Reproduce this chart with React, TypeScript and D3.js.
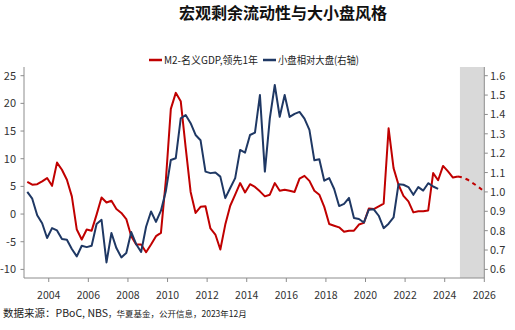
import React from "react";
import * as d3 from "d3";

// Quarterly observations, first quarter = Dec 2002
const FIRST_PERIOD = 2002 + 11 / 12;
const STEP = 0.25;

const m2GdpLead = [
  5.8, 5.3, 5.4, 5.9, 6.5, 5.1, 9.3, 8.0, 6.2, 3.2,
  -2.8, -4.6, -2.8, -3.0, -0.1, 3.0, 2.1, 2.4, 0.9, 0.2,
  -0.9, -4.0, -5.5, -5.5, -6.9, -5.5, -4.0, -3.4, 6.2, 19.0,
  21.9, 20.4, 12.0, 4.0, 0.2, 1.3, 1.4, -2.6, -3.7, -6.4,
  -1.9, 1.5, 3.5, 5.6, 3.9, 5.4, 4.9, 4.1, 3.2, 3.5,
  5.6, 4.2, 4.4, 4.2, 4.0, 6.4, 6.9, 6.0, 4.2, 3.5,
  1.3, -1.8, -2.1, -2.4, -3.2, -3.0, -3.0, -1.9, -1.6, 1.0,
  0.9, 1.4, 1.9, 15.5, 8.3, 5.3, 3.3, 2.3, 0.3, 0.5,
  0.5, 0.65, 7.4, 6.1, 8.7, 7.7, 6.6, 6.8,
];
// Projection (dashed), continues from the last observed quarter
const m2GdpForecast = [6.8, 6.6, 6.2, 5.6, 5.0, 4.3];

const smallVsLarge = [
  1.0, 0.965, 0.88, 0.838, 0.762, 0.813, 0.801, 0.757, 0.753, 0.705,
  0.667, 0.722, 0.715, 0.722, 0.834, 0.856, 0.636, 0.788, 0.71, 0.662,
  0.685, 0.793, 0.73, 0.69, 0.82, 0.899, 0.845, 0.903, 1.005, 1.165,
  1.174, 1.38, 1.397, 1.355, 1.294, 1.267, 1.105, 1.097, 1.1, 1.079,
  0.968, 1.02, 1.071, 1.217, 1.203, 1.294, 1.306, 1.5, 1.105, 1.38,
  1.552, 1.388, 1.5, 1.387, 1.403, 1.413, 1.378, 1.32, 1.163, 1.169,
  1.058, 1.071, 1.015, 0.927, 0.938, 0.969, 0.865, 0.86, 0.842, 0.908,
  0.91, 0.877, 0.813, 0.836, 0.868, 1.04, 1.037, 1.025, 0.985, 1.025,
  1.007, 1.045, 1.028, 1.016,
];

const xTicks = [2004, 2006, 2008, 2010, 2012, 2014, 2016, 2018, 2020, 2022, 2024, 2026];
const leftTicks = [-10, -5, 0, 5, 10, 15, 20, 25];
const rightTicks = [0.6, 0.7, 0.8, 0.9, 1.0, 1.1, 1.2, 1.3, 1.4, 1.5, 1.6];
const forecastShade = [2024.77, 2026];

const TITLE = "宏观剩余流动性与大小盘风格";
const LEGEND_RED = "M2-名义GDP,领先1年";
const LEGEND_BLUE = "小盘相对大盘(右轴)";
const SOURCE_A = "数据来源：PBoC, NBS";
const SOURCE_B = "，华夏基金，公开信息，2023年12月";

const RED = "#C00000";
const BLUE = "#1F3864";
const AXIS = "#8c8c8c";
const FONT = "'Noto Sans CJK SC', 'Noto Sans', sans-serif";

export default function App() {
  const W = 515, H = 330;
  const left = 24, right = 484.3, top = 67, bottom = 278;

  const x = d3.scaleLinear().domain([2002.75, 2026]).range([left, right]);
  const yL = d3.scaleLinear().domain([-10, 25]).range([269.4, 75.7]);
  const yR = d3.scaleLinear().domain([0.6, 1.6]).range([269.4, 75.7]);

  const t = (i: number) => FIRST_PERIOD + i * STEP;
  const redLine = d3.line<number>().x((_, i) => x(t(i))).y((d) => yL(d));
  const fcOffset = m2GdpLead.length - 1;
  const fcLine = d3.line<number>().x((_, i) => x(t(i + fcOffset))).y((d) => yL(d));
  const blueLine = d3.line<number>().x((_, i) => x(t(i))).y((d) => yR(d));

  return (
    <svg width={W} height={H} style={{ position: "absolute", left: 0, top: 0, background: "#fff" }} fontFamily={FONT}>
      <rect
        x={x(forecastShade[0])}
        y={top}
        width={x(forecastShade[1]) - x(forecastShade[0])}
        height={bottom - top}
        fill="#d9d9d9"
      />
      <text x={283} y={19} textAnchor="middle" fontSize={16} fontWeight="bold" fill="#111">{TITLE}</text>

      {/* legend */}
      <line x1={149} x2={162} y1={60} y2={60} stroke={RED} strokeWidth={2.5} />
      <text x={164} y={64} fontSize={10.5} fill="#222" textLength={94} lengthAdjust="spacingAndGlyphs">{LEGEND_RED}</text>
      <line x1={263} x2={276} y1={60} y2={60} stroke={BLUE} strokeWidth={2.5} />
      <text x={278} y={64} fontSize={10.5} fill="#222" textLength={81} lengthAdjust="spacingAndGlyphs">{LEGEND_BLUE}</text>

      {/* axes */}
      <line x1={left} x2={left} y1={top} y2={bottom} stroke={AXIS} />
      <line x1={right} x2={right} y1={top} y2={bottom} stroke={AXIS} />
      <line x1={left} x2={right} y1={bottom} y2={bottom} stroke={AXIS} />
      {leftTicks.map((v) => (
        <g key={"l" + v}>
          <line x1={left - 3.5} x2={left} y1={yL(v)} y2={yL(v)} stroke={AXIS} />
          <text x={16} y={yL(v) + 4} textAnchor="end" fontSize={11} fill="#333">{v}</text>
        </g>
      ))}
      {rightTicks.map((v) => (
        <g key={"r" + v}>
          <line x1={right} x2={right + 3.5} y1={yR(v)} y2={yR(v)} stroke={AXIS} />
          <text x={490} y={yR(v) + 4} fontSize={11} fill="#333">{v.toFixed(1)}</text>
        </g>
      ))}
      {xTicks.map((v) => (
        <g key={"x" + v}>
          <line x1={x(v)} x2={x(v)} y1={bottom} y2={bottom + 4} stroke={AXIS} />
          <text x={x(v)} y={299} textAnchor="middle" fontSize={10.5} fill="#333">{v}</text>
        </g>
      ))}

      {/* series */}
      <path d={redLine(m2GdpLead) || ""} fill="none" stroke={RED} strokeWidth={2} strokeLinejoin="round" />
      <path d={fcLine(m2GdpForecast) || ""} fill="none" stroke={RED} strokeWidth={2} strokeDasharray="4,4" />
      <path d={blueLine(smallVsLarge) || ""} fill="none" stroke={BLUE} strokeWidth={2} strokeLinejoin="round" />

      <text x={3} y={317} fill="#222">
        <tspan fontSize={10.5}>{SOURCE_A}</tspan>
        <tspan fontSize={8.5}>{SOURCE_B}</tspan>
      </text>
    </svg>
  );
}
